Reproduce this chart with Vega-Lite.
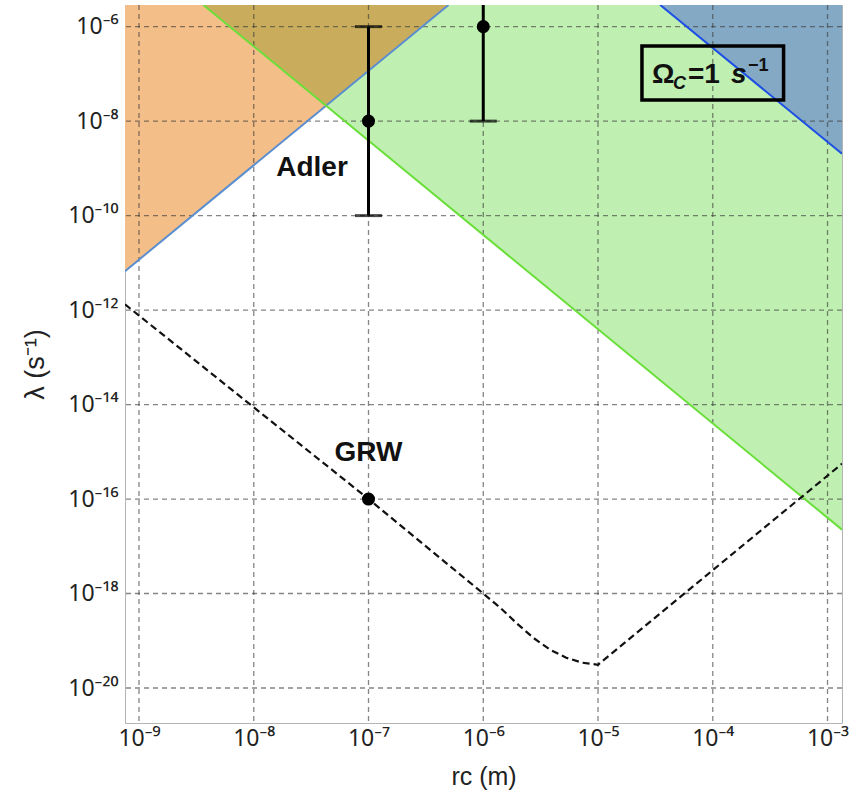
{
  "$schema": "https://vega.github.io/schema/vega-lite/v6.json",
  "autosize": "none",
  "width": 717,
  "height": 718,
  "padding": {"left": 125, "top": 5, "right": 25, "bottom": 76},
  "background": "white",
  "config": {
    "view": {"stroke": "#b4b4b4", "strokeWidth": 1},
    "font": "Liberation Sans"
  },
  "datasets": {
    "regions": [
      {"region": "orange", "r": 7.551e-10, "lo": 6.65e-12, "hi": 2.871e-6},
      {"region": "orange", "r": 4.977e-7, "lo": 2.871e-6, "hi": 2.871e-6},
      {"region": "green", "r": 3.64e-9, "lo": 2.871e-6, "hi": 2.871e-6},
      {"region": "green", "r": 1.337e-3, "lo": 2.25e-17, "hi": 2.871e-6},
      {"region": "overlap", "r": 3.64e-9, "lo": 2.871e-6, "hi": 2.871e-6},
      {"region": "overlap", "r": 4.266e-8, "lo": 2.113e-8, "hi": 2.871e-6},
      {"region": "overlap", "r": 4.977e-7, "lo": 2.871e-6, "hi": 2.871e-6},
      {"region": "omega", "r": 3.483e-5, "lo": 2.871e-6, "hi": 2.871e-6},
      {"region": "omega", "r": 1.337e-3, "lo": 2.042e-9, "hi": 2.871e-6}
    ],
    "bounds": [
      {"line": "adler", "r": 7.551e-10, "lam": 6.65e-12},
      {"line": "adler", "r": 4.977e-7, "lam": 2.871e-6},
      {"line": "green", "r": 3.64e-9, "lam": 2.871e-6},
      {"line": "green", "r": 1.337e-3, "lam": 2.25e-17},
      {"line": "omega", "r": 3.483e-5, "lam": 2.871e-6},
      {"line": "omega", "r": 1.337e-3, "lam": 2.042e-9}
    ],
    "gridX": [
      {"r": 1e-9}, {"r": 1e-8}, {"r": 1e-7}, {"r": 1e-6}, {"r": 1e-5}, {"r": 1e-4}, {"r": 1e-3}
    ],
    "gridY": [
      {"lam": 1e-20}, {"lam": 1e-18}, {"lam": 1e-16}, {"lam": 1e-14}, {"lam": 1e-12}, {"lam": 1e-10}, {"lam": 1e-8}, {"lam": 1e-6}
    ],
    "grw": [
      {"r": 7.551e-10, "lam": 1.32e-12},
      {"r": 1e-7, "lam": 1e-16},
      {"r": 1e-6, "lam": 1e-18},
      {"r": 1.404e-6, "lam": 5.01e-19},
      {"r": 1.975e-6, "lam": 2.296e-19},
      {"r": 2.724e-6, "lam": 1.159e-19},
      {"r": 3.832e-6, "lam": 6.457e-20},
      {"r": 5.281e-6, "lam": 4.375e-20},
      {"r": 7.283e-6, "lam": 3.428e-20},
      {"r": 1e-5, "lam": 3.105e-20},
      {"r": 1.337e-3, "lam": 5.6e-16}
    ],
    "bars": [
      {"r": 1e-7, "lam": 1e-8, "lo": 1e-10, "hi": 1e-6},
      {"r": 1e-6, "lam": 1e-6, "lo": 1e-8, "hi": 1e-4}
    ],
    "dots": [
      {"r": 1e-7, "lam": 1e-8},
      {"r": 1e-6, "lam": 1e-6},
      {"r": 1e-7, "lam": 1e-16}
    ],
    "names": [
      {"r": 3.22e-8, "lam": 6.75e-10, "t": "Adler"},
      {"r": 1e-7, "lam": 6.5e-16, "t": "GRW"}
    ],
    "box": [
      {"r": 2.415e-5, "r2": 4.14e-4, "lam": 3.88e-7, "lam2": 2.786e-8}
    ],
    "boxText": [
      {"r": 2.95e-5, "lam": 6.52e-8}
    ]
  },
  "layer": [
    {
      "data": {"name": "regions"},
      "transform": [{"filter": "datum.region == 'orange'"}],
      "mark": {"type": "area", "orient": "vertical", "color": "#f4be88", "clip": true},
      "encoding": {
        "x": {
          "field": "r", "type": "quantitative",
          "scale": {"type": "log", "domain": [7.551e-10, 1.337e-3], "nice": false},
          "axis": {
            "values": [1e-9, 1e-8, 1e-7, 1e-6, 1e-5, 1e-4, 1e-3],
            "grid": false, "ticks": false, "domain": false,
            "labelExpr": "'10⁻' + (round(-log(datum.value)/LN10) >= 10 ? ['⁰','¹','²','³','⁴','⁵','⁶','⁷','⁸','⁹'][floor(round(-log(datum.value)/LN10)/10)] : '') + ['⁰','¹','²','³','⁴','⁵','⁶','⁷','⁸','⁹'][round(-log(datum.value)/LN10) % 10]",
            "labelFont": "Noto Sans", "labelFontSize": 23, "labelColor": "#222222",
            "labelPadding": 4, "labelFlush": false, "labelOverlap": false,
            "title": "rᴄ (m)", "titleFont": "Liberation Sans", "titleFontSize": 25,
            "titleFontWeight": "normal", "titleColor": "#222222", "titlePadding": 14
          }
        },
        "y": {
          "field": "lo", "type": "quantitative",
          "scale": {"type": "log", "domain": [1.816e-21, 2.871e-6], "nice": false},
          "axis": {
            "values": [1e-20, 1e-18, 1e-16, 1e-14, 1e-12, 1e-10, 1e-8, 1e-6],
            "grid": false, "ticks": false, "domain": false,
            "labelExpr": "'10⁻' + (round(-log(datum.value)/LN10) >= 10 ? ['⁰','¹','²','³','⁴','⁵','⁶','⁷','⁸','⁹'][floor(round(-log(datum.value)/LN10)/10)] : '') + ['⁰','¹','²','³','⁴','⁵','⁶','⁷','⁸','⁹'][round(-log(datum.value)/LN10) % 10]",
            "labelFont": "Noto Sans", "labelFontSize": 23, "labelColor": "#222222",
            "labelPadding": 7, "labelFlush": false, "labelOverlap": false,
            "title": "λ (s⁻¹)", "titleFont": "Liberation Sans", "titleFontSize": 27,
            "titleFontWeight": "normal", "titleColor": "#222222", "titlePadding": 18
          }
        },
        "y2": {"field": "hi"}
      }
    },
    {
      "data": {"name": "regions"},
      "transform": [{"filter": "datum.region == 'green'"}],
      "mark": {"type": "area", "orient": "vertical", "color": "#bff0b1", "clip": true},
      "encoding": {
        "x": {"field": "r", "type": "quantitative", "scale": {"type": "log", "domain": [7.551e-10, 1.337e-3], "nice": false}},
        "y": {"field": "lo", "type": "quantitative", "scale": {"type": "log", "domain": [1.816e-21, 2.871e-6], "nice": false}},
        "y2": {"field": "hi"}
      }
    },
    {
      "data": {"name": "regions"},
      "transform": [{"filter": "datum.region == 'overlap'"}],
      "mark": {"type": "area", "orient": "vertical", "color": "#c9ad5d", "clip": true},
      "encoding": {
        "x": {"field": "r", "type": "quantitative", "scale": {"type": "log", "domain": [7.551e-10, 1.337e-3], "nice": false}},
        "y": {"field": "lo", "type": "quantitative", "scale": {"type": "log", "domain": [1.816e-21, 2.871e-6], "nice": false}},
        "y2": {"field": "hi"}
      }
    },
    {
      "data": {"name": "regions"},
      "transform": [{"filter": "datum.region == 'omega'"}],
      "mark": {"type": "area", "orient": "vertical", "color": "#84a9c4", "clip": true},
      "encoding": {
        "x": {"field": "r", "type": "quantitative", "scale": {"type": "log", "domain": [7.551e-10, 1.337e-3], "nice": false}},
        "y": {"field": "lo", "type": "quantitative", "scale": {"type": "log", "domain": [1.816e-21, 2.871e-6], "nice": false}},
        "y2": {"field": "hi"}
      }
    },
    {
      "data": {"name": "gridX"},
      "mark": {"type": "rule", "color": "#3a3a3a", "opacity": 0.62, "strokeWidth": 1.3, "strokeDash": [5, 4]},
      "encoding": {
        "x": {"field": "r", "type": "quantitative", "scale": {"type": "log", "domain": [7.551e-10, 1.337e-3], "nice": false}}
      }
    },
    {
      "data": {"name": "gridY"},
      "mark": {"type": "rule", "color": "#3a3a3a", "opacity": 0.62, "strokeWidth": 1.3, "strokeDash": [5, 4]},
      "encoding": {
        "y": {"field": "lam", "type": "quantitative", "scale": {"type": "log", "domain": [1.816e-21, 2.871e-6], "nice": false}}
      }
    },
    {
      "data": {"name": "bounds"},
      "mark": {"type": "line", "strokeWidth": 2, "clip": true},
      "encoding": {
        "x": {"field": "r", "type": "quantitative", "scale": {"type": "log", "domain": [7.551e-10, 1.337e-3], "nice": false}},
        "y": {"field": "lam", "type": "quantitative", "scale": {"type": "log", "domain": [1.816e-21, 2.871e-6], "nice": false}},
        "color": {
          "field": "line", "type": "nominal", "legend": null,
          "scale": {"domain": ["adler", "green", "omega"], "range": ["#5b8ecf", "#6adf3a", "#1d4fe6"]}
        }
      }
    },
    {
      "data": {"name": "grw"},
      "mark": {"type": "line", "color": "#111111", "strokeWidth": 2.2, "strokeDash": [7, 4], "interpolate": "linear", "clip": true},
      "encoding": {
        "x": {"field": "r", "type": "quantitative", "scale": {"type": "log", "domain": [7.551e-10, 1.337e-3], "nice": false}},
        "y": {"field": "lam", "type": "quantitative", "scale": {"type": "log", "domain": [1.816e-21, 2.871e-6], "nice": false}}
      }
    },
    {
      "data": {"name": "bars"},
      "mark": {"type": "rule", "color": "black", "strokeWidth": 3, "clip": true},
      "encoding": {
        "x": {"field": "r", "type": "quantitative", "scale": {"type": "log", "domain": [7.551e-10, 1.337e-3], "nice": false}},
        "y": {"field": "lo", "type": "quantitative", "scale": {"type": "log", "domain": [1.816e-21, 2.871e-6], "nice": false}},
        "y2": {"field": "hi"}
      }
    },
    {
      "data": {"name": "bars"},
      "transform": [{"fold": ["lo", "hi"], "as": ["end", "cap"]}],
      "mark": {"type": "tick", "orient": "horizontal", "color": "black", "size": 27, "thickness": 3, "clip": true},
      "encoding": {
        "x": {"field": "r", "type": "quantitative", "scale": {"type": "log", "domain": [7.551e-10, 1.337e-3], "nice": false}},
        "y": {"field": "cap", "type": "quantitative", "scale": {"type": "log", "domain": [1.816e-21, 2.871e-6], "nice": false}}
      }
    },
    {
      "data": {"name": "dots"},
      "mark": {"type": "circle", "color": "black", "opacity": 1, "size": 170},
      "encoding": {
        "x": {"field": "r", "type": "quantitative", "scale": {"type": "log", "domain": [7.551e-10, 1.337e-3], "nice": false}},
        "y": {"field": "lam", "type": "quantitative", "scale": {"type": "log", "domain": [1.816e-21, 2.871e-6], "nice": false}}
      }
    },
    {
      "data": {"name": "names"},
      "mark": {"type": "text", "font": "Liberation Sans", "fontWeight": "bold", "fontSize": 28, "color": "#111111", "align": "center", "baseline": "alphabetic"},
      "encoding": {
        "x": {"field": "r", "type": "quantitative", "scale": {"type": "log", "domain": [7.551e-10, 1.337e-3], "nice": false}},
        "y": {"field": "lam", "type": "quantitative", "scale": {"type": "log", "domain": [1.816e-21, 2.871e-6], "nice": false}},
        "text": {"field": "t"}
      }
    },
    {
      "data": {"name": "box"},
      "mark": {"type": "rect", "fill": null, "fillOpacity": 0, "stroke": "black", "strokeWidth": 3.5},
      "encoding": {
        "x": {"field": "r", "type": "quantitative", "scale": {"type": "log", "domain": [7.551e-10, 1.337e-3], "nice": false}},
        "x2": {"field": "r2"},
        "y": {"field": "lam", "type": "quantitative", "scale": {"type": "log", "domain": [1.816e-21, 2.871e-6], "nice": false}},
        "y2": {"field": "lam2"}
      }
    },
    {
      "data": {"name": "boxText"},
      "mark": {"type": "text", "text": "Ω", "font": "Liberation Sans", "fontWeight": "bold", "fontSize": 28, "color": "#111111", "align": "left", "baseline": "alphabetic"},
      "encoding": {
        "x": {"field": "r", "type": "quantitative", "scale": {"type": "log", "domain": [7.551e-10, 1.337e-3], "nice": false}},
        "y": {"field": "lam", "type": "quantitative", "scale": {"type": "log", "domain": [1.816e-21, 2.871e-6], "nice": false}}
      }
    },
    {
      "data": {"name": "boxText"},
      "mark": {"type": "text", "text": "C", "font": "Liberation Sans", "fontWeight": "bold", "fontStyle": "italic", "fontSize": 18, "color": "#111111", "align": "left", "baseline": "alphabetic", "dx": 21, "dy": 6},
      "encoding": {
        "x": {"field": "r", "type": "quantitative", "scale": {"type": "log", "domain": [7.551e-10, 1.337e-3], "nice": false}},
        "y": {"field": "lam", "type": "quantitative", "scale": {"type": "log", "domain": [1.816e-21, 2.871e-6], "nice": false}}
      }
    },
    {
      "data": {"name": "boxText"},
      "mark": {"type": "text", "text": "=1", "font": "Liberation Sans", "fontWeight": "bold", "fontSize": 28, "color": "#111111", "align": "left", "baseline": "alphabetic", "dx": 36},
      "encoding": {
        "x": {"field": "r", "type": "quantitative", "scale": {"type": "log", "domain": [7.551e-10, 1.337e-3], "nice": false}},
        "y": {"field": "lam", "type": "quantitative", "scale": {"type": "log", "domain": [1.816e-21, 2.871e-6], "nice": false}}
      }
    },
    {
      "data": {"name": "boxText"},
      "mark": {"type": "text", "text": "s", "font": "Liberation Sans", "fontWeight": "bold", "fontStyle": "italic", "fontSize": 28, "color": "#111111", "align": "left", "baseline": "alphabetic", "dx": 79},
      "encoding": {
        "x": {"field": "r", "type": "quantitative", "scale": {"type": "log", "domain": [7.551e-10, 1.337e-3], "nice": false}},
        "y": {"field": "lam", "type": "quantitative", "scale": {"type": "log", "domain": [1.816e-21, 2.871e-6], "nice": false}}
      }
    },
    {
      "data": {"name": "boxText"},
      "mark": {"type": "text", "text": "−1", "font": "Liberation Sans", "fontWeight": "bold", "fontSize": 18, "color": "#111111", "align": "left", "baseline": "alphabetic", "dx": 96, "dy": -12},
      "encoding": {
        "x": {"field": "r", "type": "quantitative", "scale": {"type": "log", "domain": [7.551e-10, 1.337e-3], "nice": false}},
        "y": {"field": "lam", "type": "quantitative", "scale": {"type": "log", "domain": [1.816e-21, 2.871e-6], "nice": false}}
      }
    }
  ]
}
